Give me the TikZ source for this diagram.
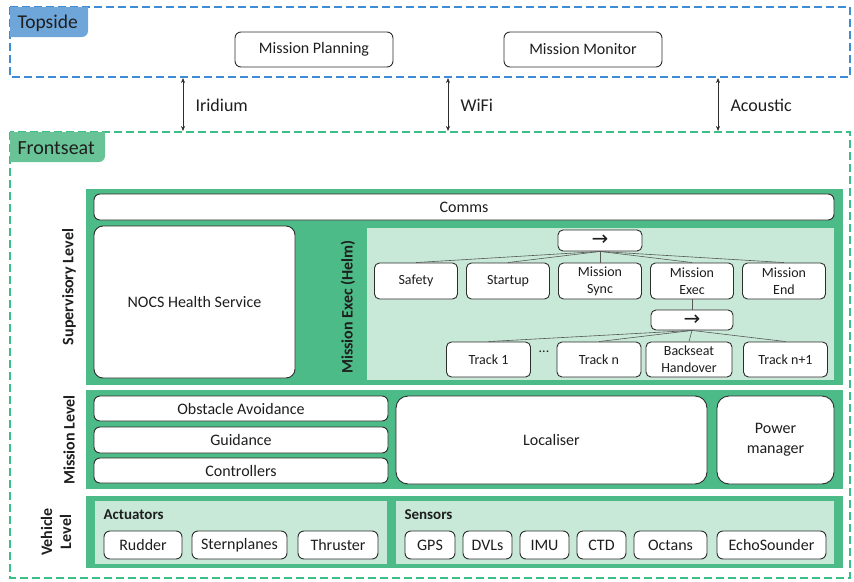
\documentclass[tikz,border=0pt]{standalone}
\usepackage{fontspec}
\setmainfont{Carlito}
\newfontfamily\symfont{DejaVu Sans}
\usetikzlibrary{arrows.meta}
\definecolor{bandgreen}{RGB}{76,187,136}
\definecolor{lightgreen}{RGB}{200,233,215}
\definecolor{dashblue}{RGB}{62,140,212}
\definecolor{dashgreen}{RGB}{60,190,135}
\definecolor{topfill}{RGB}{110,166,218}
\definecolor{frontfill}{RGB}{104,196,150}
\definecolor{boxline}{RGB}{45,45,45}
\definecolor{txt}{RGB}{30,30,30}
\tikzset{
  box/.style={draw=boxline, line width=0.9pt, fill=white, rounded corners=6pt, inner sep=0pt, align=center, text=txt, font=\fontsize{16}{20}\selectfont},
  smallbox/.style={box, font=\fontsize{14}{17}\selectfont, rounded corners=5pt},
  dashbox/.style={line width=2pt, dash pattern=on 8pt off 4pt},
  biarrow/.style={{Stealth[length=5pt,width=4pt]}-{Stealth[length=5pt,width=4pt]}, line width=0.6pt, draw=boxline},
  treeline/.style={draw=boxline!80, line width=0.6pt},
  levellabel/.style={rotate=90, font=\bfseries\fontsize{16}{19}\selectfont, text=txt, align=center},
  commlabel/.style={font=\fontsize{18}{22}\selectfont, text=txt, anchor=west},
  grouptitle/.style={font=\bfseries\fontsize{15}{18}\selectfont, text=txt, anchor=west},
  seqarrow/.style={font=\symfont\fontsize{20}{20}\selectfont},
}
\begin{document}
\begin{tikzpicture}[x=1pt,y=-1pt]
\useasboundingbox (0,0) rectangle (854,581);
% Topside
\draw[dashbox, draw=dashblue] (10,7) rectangle (850,77);
\fill[topfill] (10,7) -- (88,7) -- (88,31) arc(0:90:6) -- (10,37) -- cycle;
\node[font=\fontsize{19.5}{22}\selectfont, anchor=west, text=txt] (topside) at (14,23) {Topside};
\node[box, minimum width=158pt, minimum height=35pt] (plan) at (314,49.5) {Mission Planning};
\node[box, minimum width=158pt, minimum height=35pt] (monitor) at (583,49.5) {Mission Monitor};
% Frontseat
\draw[dashbox, draw=dashgreen] (10,132) rectangle (850,578);
\fill[frontfill] (10,132) -- (105,132) -- (105,156) arc(0:90:6) -- (10,162) -- cycle;
\node[font=\fontsize{20}{22}\selectfont, anchor=west, text=txt] (frontseat) at (14,148) {Frontseat};
% links
\coordinate (i1) at (183,78); \coordinate (i2) at (183,131);
\coordinate (w1) at (448,78); \coordinate (w2) at (448,131);
\coordinate (a1) at (718,78); \coordinate (a2) at (718,131);
\draw[biarrow] (i1) -- (i2);
\draw[biarrow] (w1) -- (w2);
\draw[biarrow] (a1) -- (a2);
\node[commlabel] (iridium) at (192,105) {Iridium};
\node[commlabel] (wifi) at (457,105) {WiFi};
\node[commlabel] (acoustic) at (727,105) {Acoustic};
% Supervisory level
\fill[bandgreen] (86,189) rectangle (843,385);
\node[levellabel] (suplabel) at (69,287) {Supervisory Level};
\node[box, minimum width=740pt, minimum height=26pt] (comms) at (464,207) {Comms};
\node[box, minimum width=201pt, minimum height=152pt, rounded corners=9pt] (nocs) at (194.5,302) {NOCS Health Service};
\node[levellabel] (helmlabel) at (348,307) {Mission Exec (Helm)};
\fill[lightgreen] (367,228) rectangle (834,380);
\node[smallbox, seqarrow, minimum width=84pt, minimum height=21pt] (seqa) at (600,240.5) {→};
\node[smallbox, minimum width=83pt, minimum height=36pt] (safety) at (416,281) {Safety};
\node[smallbox, minimum width=83pt, minimum height=36pt] (startup) at (508,281) {Startup};
\node[smallbox, minimum width=83pt, minimum height=36pt] (sync) at (600,281) {Mission\\Sync};
\node[smallbox, minimum width=83pt, minimum height=36pt] (exec) at (692,281) {Mission\\Exec};
\node[smallbox, minimum width=83pt, minimum height=36pt] (mend) at (784,281) {Mission\\End};
\foreach \c in {safety,startup,sync,exec,mend} \draw[treeline] (seqa.south) -- (\c.north);
\node[smallbox, seqarrow, minimum width=82pt, minimum height=20pt] (seqb) at (692,320) {→};
\draw[treeline] (exec.south) -- (seqb.north);
\node[smallbox, minimum width=84pt, minimum height=35pt] (track1) at (488.5,359.5) {Track 1};
\node[font=\fontsize{14}{17}\selectfont, text=txt] (dots) at (544,352) {...};
\node[smallbox, minimum width=84pt, minimum height=35pt] (trackn) at (599,359.5) {Track n};
\node[smallbox, minimum width=86pt, minimum height=35pt] (backseat) at (689,359.5) {Backseat\\Handover};
\node[smallbox, minimum width=84pt, minimum height=35pt] (trackn1) at (785.5,359.5) {Track n+1};
\foreach \c in {track1,trackn,backseat,trackn1} \draw[treeline] (seqb.south) -- (\c.north);
% Mission level
\fill[bandgreen] (86,390) rectangle (843,489);
\node[levellabel] (mislabel) at (69,440) {Mission Level};
\node[box, minimum width=294pt, minimum height=25pt] (obst) at (241,408.5) {Obstacle Avoidance};
\node[box, minimum width=294pt, minimum height=26pt] (guid) at (241,440) {Guidance};
\node[box, minimum width=294pt, minimum height=25pt] (ctrl) at (241,470.5) {Controllers};
\node[box, minimum width=311pt, minimum height=88pt, rounded corners=12pt] (local) at (551.5,440) {Localiser};
\node[box, minimum width=117pt, minimum height=88pt, rounded corners=12pt] (power) at (775.5,440) {Power\\manager};
% Vehicle level
\fill[bandgreen] (86,496) rectangle (843,568);
\node[levellabel] (vehlabel) at (56,532) {Vehicle\\Level};
\fill[lightgreen] (95,501) rectangle (387,564);
\fill[lightgreen] (396,501) rectangle (834,564);
\node[grouptitle] (act) at (100,515) {Actuators};
\node[grouptitle] (sens) at (401,515) {Sensors};
\node[box, minimum width=78pt, minimum height=28pt] (rudder) at (143,545) {Rudder};
\node[box, minimum width=95pt, minimum height=28pt] (stern) at (239.5,545) {Sternplanes};
\node[box, minimum width=80pt, minimum height=28pt] (thruster) at (338,545) {Thruster};
\node[box, minimum width=50pt, minimum height=28pt] (gps) at (430,545) {GPS};
\node[box, minimum width=49pt, minimum height=28pt] (dvls) at (487.5,545) {DVLs};
\node[box, minimum width=49pt, minimum height=28pt] (imu) at (544.5,545) {IMU};
\node[box, minimum width=49pt, minimum height=28pt] (ctd) at (601.5,545) {CTD};
\node[box, minimum width=73pt, minimum height=28pt] (octans) at (670.5,545) {Octans};
\node[box, minimum width=109pt, minimum height=28pt] (echo) at (771.5,545) {EchoSounder};
\end{tikzpicture}
\end{document}
